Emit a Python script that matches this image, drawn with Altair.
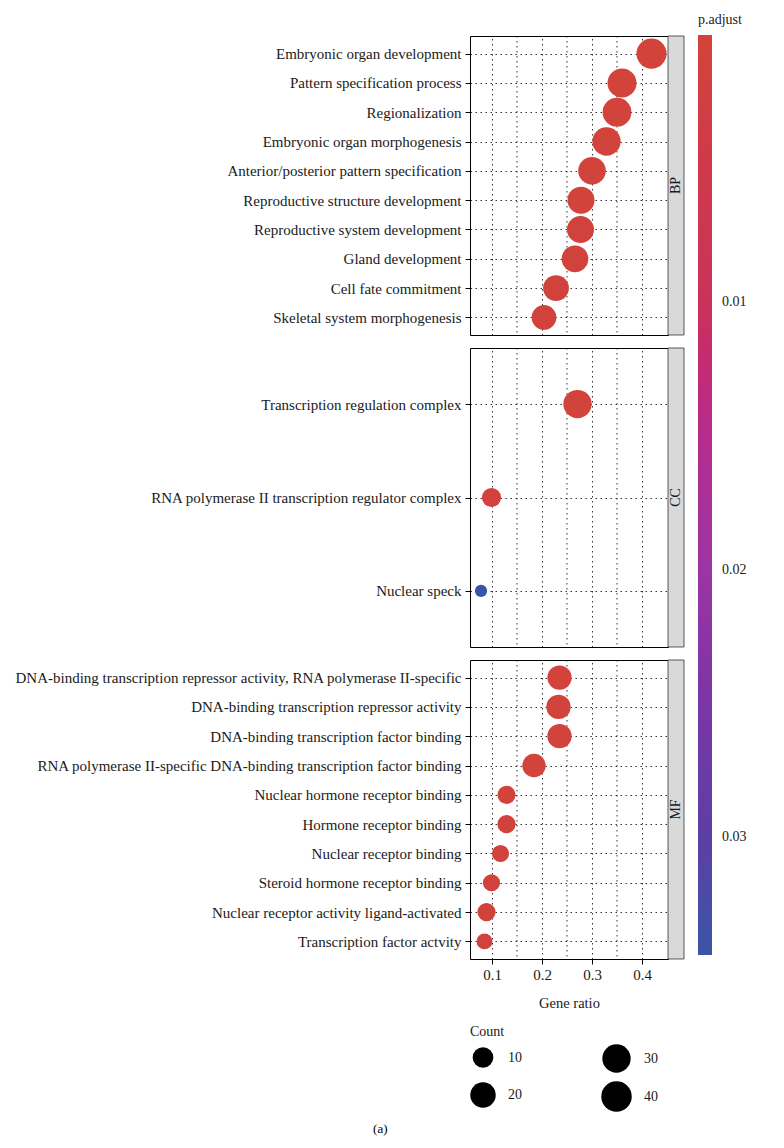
import altair as alt
import pandas as pd

FONT = "Liberation Serif"

bp_terms = ["Embryonic organ development", "Pattern specification process", "Regionalization",
            "Embryonic organ morphogenesis", "Anterior/posterior pattern specification",
            "Reproductive structure development", "Reproductive system development",
            "Gland development", "Cell fate commitment", "Skeletal system morphogenesis"]
bp_ratio = [0.419, 0.360, 0.350, 0.329, 0.300, 0.278, 0.277, 0.266, 0.228, 0.204]
bp_count = [38, 33, 32, 30, 27, 25, 25, 24, 21, 18]
bp_padj = [0.0002, 0.0003, 0.0003, 0.0004, 0.0002, 0.0006, 0.0007, 0.0008, 0.0009, 0.0010]

cc_terms = ["Transcription regulation complex", "RNA polymerase II transcription regulator complex",
            "Nuclear speck"]
cc_ratio = [0.271, 0.099, 0.078]
cc_count = [30, 8, 3]
cc_padj = [0.0006, 0.0012, 0.0344]

mf_terms = ["DNA-binding transcription repressor activity, RNA polymerase II-specific",
            "DNA-binding transcription repressor activity",
            "DNA-binding transcription factor binding",
            "RNA polymerase II-specific DNA-binding transcription factor binding",
            "Nuclear hormone receptor binding", "Hormone receptor binding",
            "Nuclear receptor binding", "Steroid hormone receptor binding",
            "Nuclear receptor activity ligand-activated", "Transcription factor actvity"]
mf_ratio = [0.235, 0.233, 0.235, 0.184, 0.129, 0.129, 0.117, 0.099, 0.089, 0.085]
mf_count = [17, 17, 17, 15, 7, 7, 6, 6, 7, 5]
mf_padj = [0.0003, 0.0003, 0.0004, 0.0005, 0.0006, 0.0007, 0.0008, 0.0009, 0.0010, 0.0011]

x_major = [0.1, 0.2, 0.3, 0.4]
x_minor = [0.15, 0.25, 0.35]
x_domain = [0.056, 0.452]
size_breaks_a = [10, 20]
size_breaks_b = [30, 40]
padj_ticks = [0.01, 0.02, 0.03]
padj_stops = [0.0, 0.01, 0.015, 0.02, 0.025, 0.03, 0.0344]
padj_colors = ["#D2443A", "#C9335A", "#B42E8E", "#9C34A4", "#7A35A5", "#5C3FA3", "#3A55A5"]

W = 198
H = 299
STRIP = 16
DASH = [1.5, 3.5]

# legend draws low values on top, as in the reference: colour by the negated value
neg_stops = [-v for v in reversed(padj_stops)]
neg_colors = list(reversed(padj_colors))
color_scale = alt.Scale(domain=neg_stops, range=neg_colors)
x_scale = alt.Scale(domain=x_domain, nice=False, zero=False)


def size_scale():
    return alt.Scale(type="pow", exponent=0.35, domain=[3, 41], range=[150, 940])


color_legend = alt.Legend(title="p.adjust", orient="none", legendX=228, legendY=-23,
                          gradientLength=920, gradientThickness=14,
                          values=[-v for v in padj_ticks],
                          labelExpr="format(-datum.value, '.2f')", direction="vertical",
                          gradientStrokeWidth=0, labelOffset=10, titlePadding=8)


def panel(name, terms, ratio, count, padj, bottom):
    df = pd.DataFrame({"term": terms, "ratio": ratio, "count": count, "padj": padj})
    minor = pd.DataFrame({"ratio": x_minor})
    strip_df = pd.DataFrame({"cat": [name]})
    if bottom:
        xaxis = alt.Axis(values=x_major, format=".1f", title="Gene ratio", grid=True,
                         gridColor="black", gridDash=DASH, gridWidth=0.8, domain=False,
                         tickColor="black", tickSize=5, labelPadding=3, titlePadding=14)
    else:
        xaxis = alt.Axis(values=x_major, labels=False, ticks=False, domain=False, title=None,
                         grid=True, gridColor="black", gridDash=DASH, gridWidth=0.8)
    yaxis = alt.Axis(title=None, grid=True, gridColor="black", gridDash=DASH, gridWidth=0.8,
                     domain=False, tickColor="black", tickSize=5, labelPadding=4,
                     labelLimit=600)
    grid = alt.Chart(minor).mark_rule(color="black", strokeDash=DASH, strokeWidth=0.8).encode(
        x=alt.X("ratio:Q", scale=x_scale, axis=xaxis)
    )
    base = alt.Chart(df).transform_calculate(negp="-datum.padj")
    if bottom:
        size_a = alt.Size("count:Q", scale=size_scale(),
                          legend=alt.Legend(title="Count", orient="none", legendX=0, legendY=365,
                                            values=size_breaks_a, rowPadding=14,
                                            symbolFillColor="black", symbolStrokeWidth=0,
                                            symbolOpacity=1, labelOffset=12, titlePadding=8))
    else:
        size_a = alt.Size("count:Q", scale=size_scale(), legend=None)
    pts = base.mark_circle(opacity=1).encode(
        x=alt.X("ratio:Q", scale=x_scale, axis=xaxis),
        y=alt.Y("term:N", sort=terms, scale=alt.Scale(type="point", padding=0.6), axis=yaxis),
        size=size_a,
        color=alt.Color("negp:Q", scale=color_scale, legend=color_legend),
    )
    strip = alt.Chart(strip_df).mark_rect(fill="#D9D9D9", stroke="#333333", strokeWidth=0.8).encode(
        x=alt.value(W), x2=alt.value(W + STRIP), y=alt.value(0), y2=alt.value(H)
    )
    txt = alt.Chart(strip_df).mark_text(angle=270, font=FONT, fontSize=14, color="#1a1a1a").encode(
        x=alt.value(W + STRIP / 2), y=alt.value(H / 2), text="cat:N"
    )
    layers = [grid, pts, strip, txt]
    if bottom:
        ghost = base.mark_circle(opacity=0, color="black").encode(
            x=alt.X("ratio:Q", scale=x_scale, axis=xaxis),
            y=alt.Y("term:N", sort=terms, scale=alt.Scale(type="point", padding=0.6), axis=yaxis),
            size=alt.Size("count:Q", scale=size_scale(),
                          legend=alt.Legend(title=None, orient="none", legendX=131, legendY=384,
                                            values=size_breaks_b, rowPadding=8,
                                            symbolFillColor="black", symbolStrokeWidth=0,
                                            symbolOpacity=1, labelOffset=12)),
        )
        layers.append(ghost)
        return alt.layer(*layers).resolve_scale(size="independent").resolve_legend(
            size="independent").properties(width=W, height=H)
    return alt.layer(*layers).properties(width=W, height=H)


chart = alt.vconcat(
    panel("BP", bp_terms, bp_ratio, bp_count, bp_padj, False),
    panel("CC", cc_terms, cc_ratio, cc_count, cc_padj, False),
    panel("MF", mf_terms, mf_ratio, mf_count, mf_padj, True),
    spacing=11,
).resolve_scale(
    x="shared", y="independent", color="shared", size="independent"
).resolve_legend(size="independent").resolve_axis(x="independent", y="independent").properties(
    title=alt.TitleParams("(a)", orient="bottom", anchor="middle", font=FONT, fontSize=13,
                          fontWeight="normal", offset=10),
    padding={"left": 5, "top": 5, "right": 5, "bottom": 5},
).configure_view(stroke="black", strokeWidth=1).configure_axis(
    labelFont=FONT, labelFontSize=15, labelColor="#1a1a1a", titleFont=FONT,
    titleFontSize=14.5, titleFontWeight="normal", titleColor="#1a1a1a"
).configure_legend(
    labelFont=FONT, labelFontSize=14, labelColor="#1a1a1a", titleFont=FONT,
    titleFontSize=14, titleFontWeight="normal", titleColor="#1a1a1a"
)

chart.save("out.html", embed_options={"renderer": "svg", "actions": False})
